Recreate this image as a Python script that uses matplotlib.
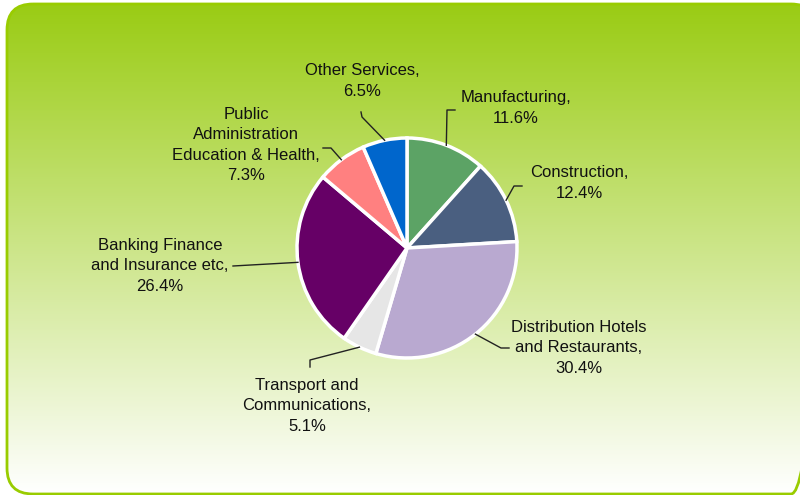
import numpy as np
import matplotlib.pyplot as plt
from matplotlib.patches import FancyBboxPatch

# --- Data ---
sectors = ['Manufacturing', 'Construction', 'Distribution Hotels\nand Restaurants',
           'Transport and\nCommunications', 'Banking Finance\nand Insurance etc',
           'Public\nAdministration\nEducation & Health', 'Other Services']
shares = [11.6, 12.4, 30.4, 5.1, 26.4, 7.3, 6.5]
colors = ['#5ca365', '#4a5f80', '#b9a9d0', '#e6e6e6', '#660066', '#ff8080', '#0066cc']

# label placement (pixel coords, y down) and leader elbows
label_xy = [(516, 108), (579, 183), (579, 348), (307, 406), (160, 266), (246, 145), (362, 81)]
elbows = [
    [(447, 110), (455, 110)],
    [(514, 186), (522, 186)],
    [(501, 348), (509, 348)],
    [(310, 360), (310, 367)],
    [(233, 266)],
    [(331, 148), (323, 148)],
    [(362, 117), (361, 112)],
]

W, H = 800, 495
fig = plt.figure(figsize=(8, 4.95), dpi=100)
ax = fig.add_axes([0, 0, 1, 1])

# --- Background panel with green gradient ---
panel = FancyBboxPatch((7, 4), 810, 490, boxstyle="round,pad=0,rounding_size=26",
                       facecolor='none', edgecolor='#99cc00', linewidth=2, zorder=3)
ax.add_patch(panel)
top = np.array([154, 204, 20]) / 255
bottom = np.array([255, 255, 255]) / 255
t = np.linspace(0, 1, 256)[:, None]
grad = (top[None, :] * (1 - t) + bottom[None, :] * t)[:, None, :]
img = ax.imshow(grad, extent=(7, 817, 494, 4), aspect='auto', zorder=1, interpolation='bilinear')
img.set_clip_path(panel)

# --- Pie ---
center = (407, 248)
radius = 110
wedges, _ = ax.pie(shares, colors=colors, startangle=270, counterclock=True,
                   center=center, radius=radius,
                   wedgeprops=dict(edgecolor='white', linewidth=2.5, zorder=4))
for w in wedges:
    w.set_zorder(4)

for w, name, val, (lx, ly), elb in zip(wedges, sectors, shares, label_xy, elbows):
    mid = np.deg2rad((w.theta1 + w.theta2) / 2)
    ex = center[0] + radius * np.cos(mid)
    ey = center[1] + radius * np.sin(mid)
    xs = [ex] + [p[0] for p in elb]
    ys = [ey] + [p[1] for p in elb]
    ax.plot(xs, ys, color='#222222', linewidth=1, zorder=5)
    ax.text(lx, ly, f"{name},\n{val}%", ha='center', va='center', multialignment='center',
            fontsize=12, family='Liberation Sans', color='#111111', linespacing=1.45, zorder=6)

ax.set_xlim(0, W)
ax.set_ylim(H, 0)
ax.set_aspect('auto')
ax.axis('off')

plt.savefig('out.png', dpi=100)
